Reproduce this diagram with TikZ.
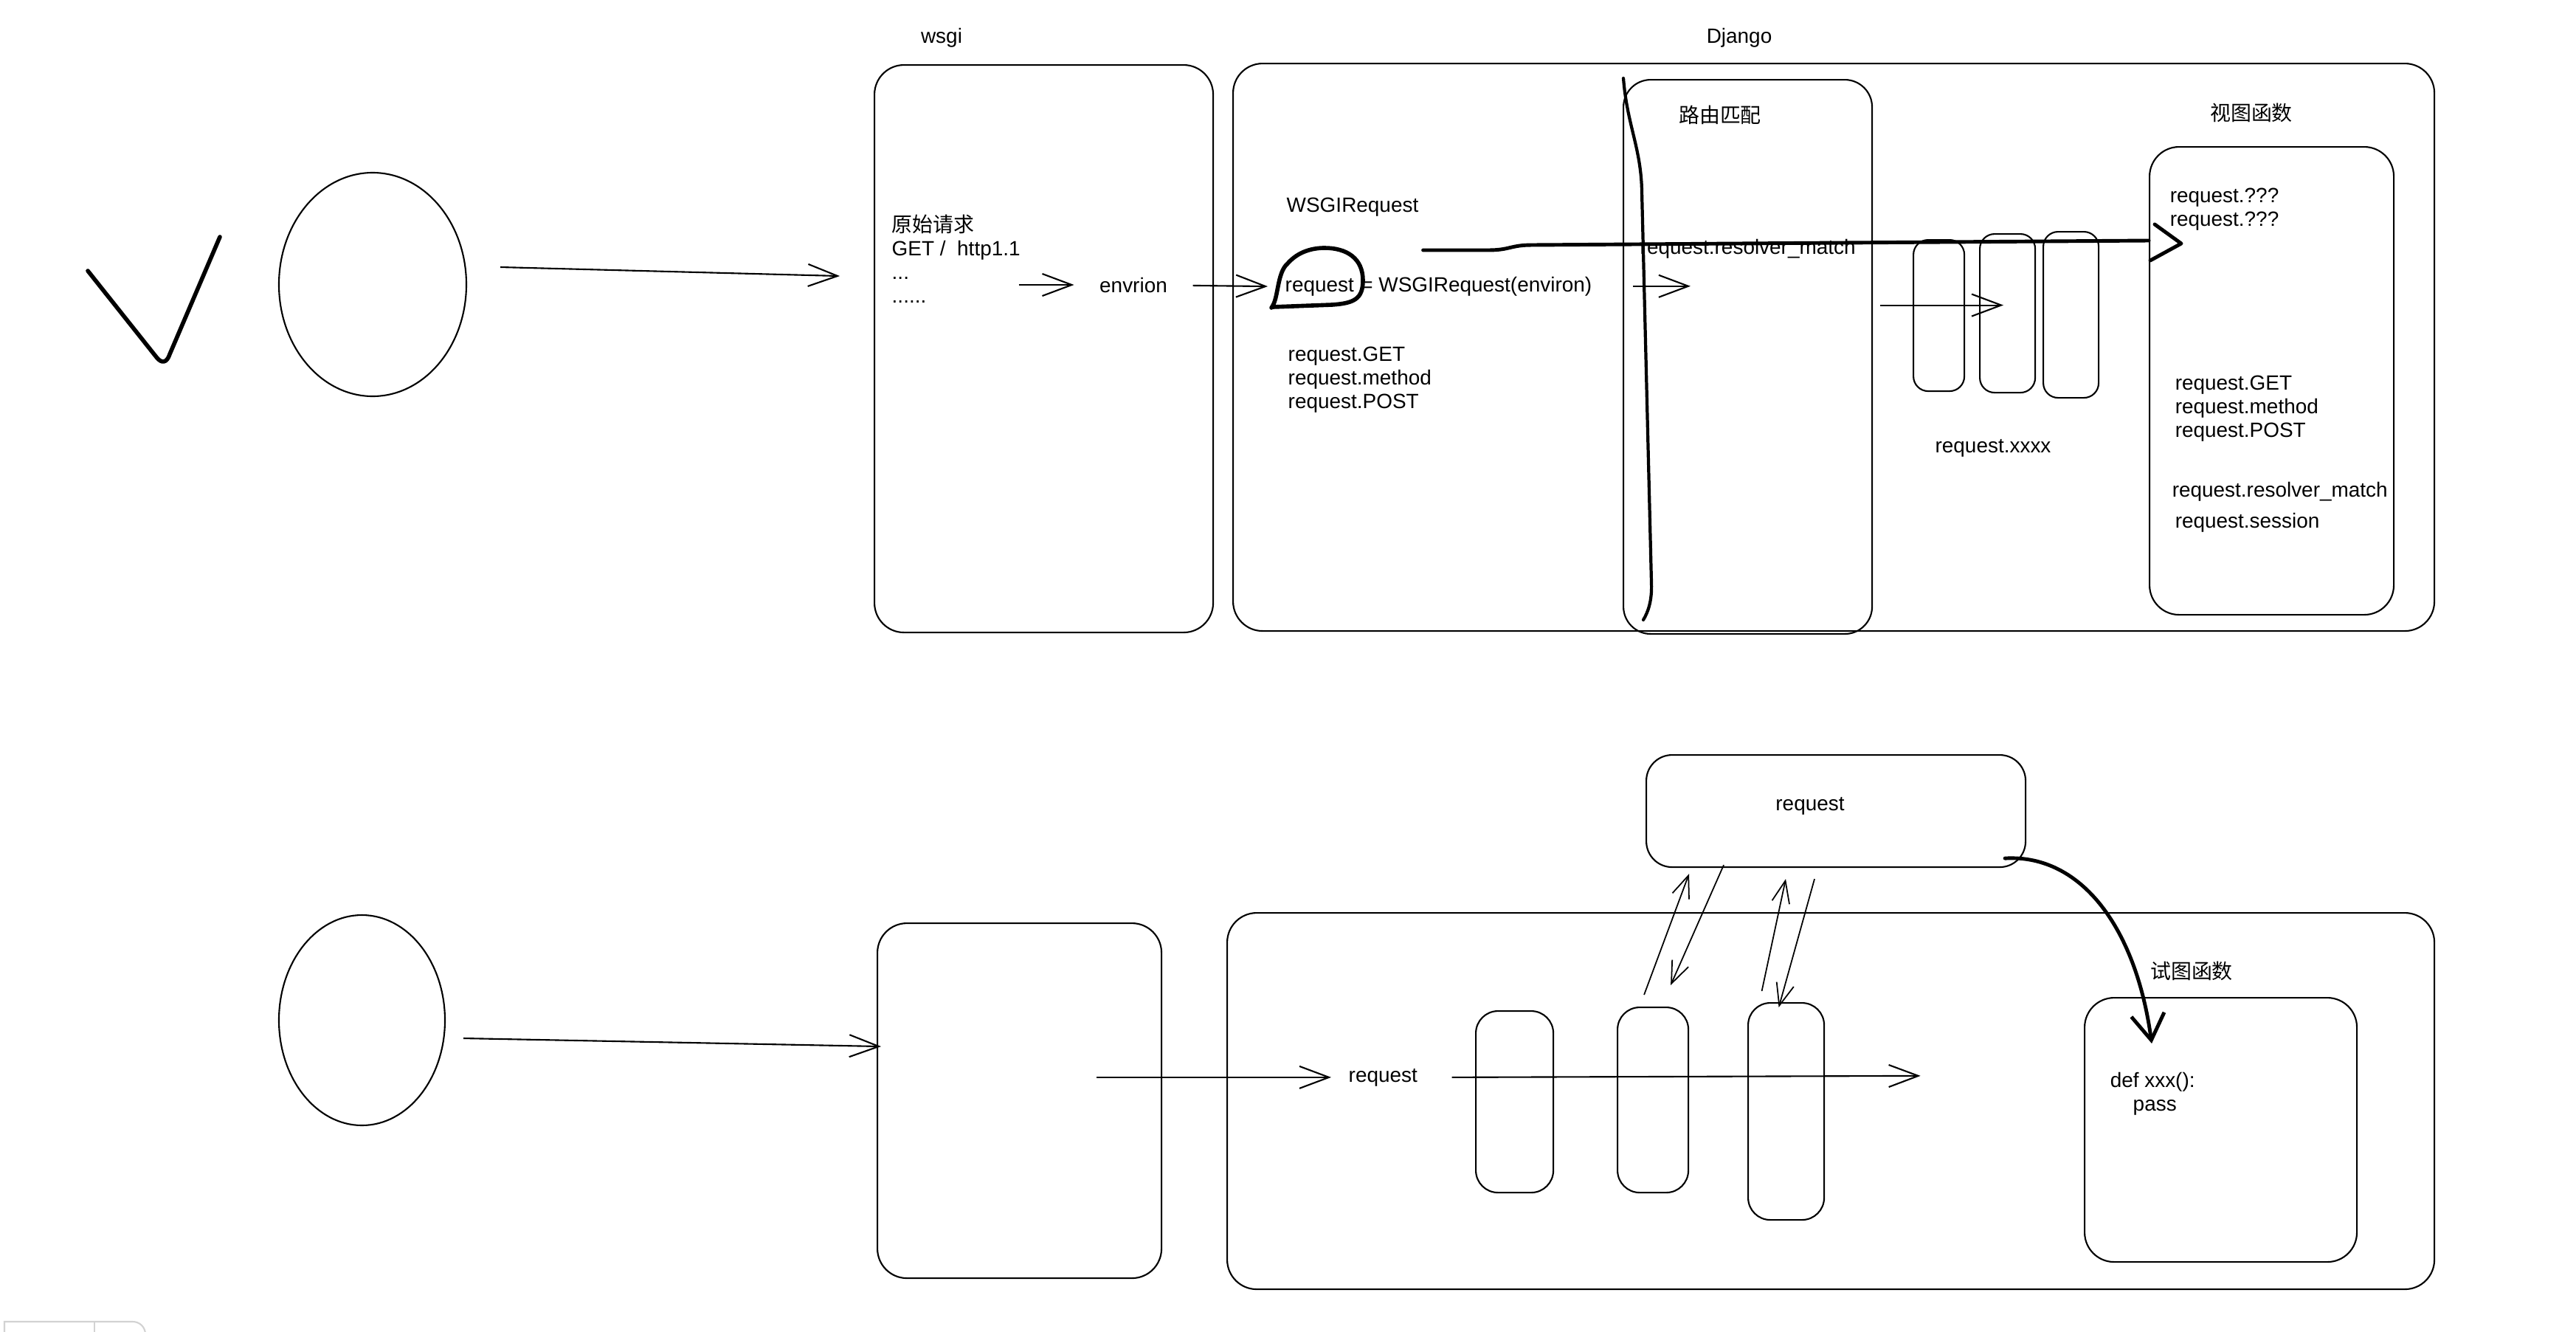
\documentclass[tikz,border=0pt]{standalone}
\usepackage{fontspec}
\setmainfont{Liberation Sans}
\newfontfamily\cjk{Noto Sans CJK SC}
\usetikzlibrary{arrows.meta,positioning,shapes.geometric}

\begin{document}
\begin{tikzpicture}[x=1cm,y=-1cm,
  font=\fontsize{7.95pt}{9.1pt}\selectfont,
  box/.style={draw,line width=0.6pt,rounded corners=4mm,inner sep=0pt,anchor=north west},
  mwbox/.style={box,rounded corners=2mm},
  egg/.style={draw,ellipse,line width=0.6pt,inner sep=0pt},
  arr/.style={-{Straight Barb[length=4mm,width=3mm]},line width=0.6pt},
  sarr/.style={-{Straight Barb[length=3mm,width=2.4mm]},line width=0.5pt},
  thk/.style={line width=1.4pt,line cap=round,line join=round},
  txt/.style={inner sep=0pt,anchor=base west,align=left},
  lab/.style={inner sep=0pt}
]
\useasboundingbox (0,0) rectangle (34.91,18.04);

% top row
\draw[thk,line width=1.6pt] (1.19,3.67) -- (2.12,4.84) .. controls (2.19,4.93) and (2.26,4.92) .. (2.30,4.80) -- (2.98,3.21);
\node[egg,minimum width=2.54cm,minimum height=3.03cm] (user1) at (5.05,3.855) {};

\node[box,minimum width=4.59cm,minimum height=7.69cm] (wsgi) at (11.84,0.87) {};
\node[box,minimum width=16.28cm,minimum height=7.69cm] (django) at (16.70,0.85) {};
\node[box,rounded corners=3.7mm,minimum width=3.37cm,minimum height=7.51cm] (route) at (21.99,1.07) {};
\node[mwbox,minimum width=0.69cm,minimum height=2.05cm] (mw1) at (25.92,3.24) {};
\node[mwbox,minimum width=0.75cm,minimum height=2.15cm] (mw2) at (26.82,3.16) {};
\node[mwbox,minimum width=0.75cm,minimum height=2.25cm] (mw3) at (27.68,3.13) {};
\node[box,minimum width=3.31cm,minimum height=6.34cm] (view) at (29.12,1.98) {};

% multi-line texts sit on the baseline of their last line
\node[lab,anchor=base] (wsgilab) at (12.76,0.58) {wsgi};
\node[lab,anchor=base] (djangolab) at (23.57,0.58) {Django};
\node[txt] (rawreq) at (12.08,4.10) {{\cjk 原始请求}\\GET /\ \ http1.1\\...\\......};
\node[lab,anchor=base,inner xsep=3.4mm] (envrion) at (15.36,3.96) {envrion};
\node[txt] (wsgireq) at (17.43,2.87) {WSGIRequest};
\node[lab,anchor=base west] (req) at (17.41,3.95) {request};
\node[txt,base right=0.8mm of req] (reqexpr) {= WSGIRequest(environ)};
\node[txt] (reqattr) at (17.45,5.53) {request.GET\\request.method\\request.POST};
\node[lab] (routelab) at (23.31,1.56) {\cjk 路由匹配};
\node[txt] (resolver) at (22.22,3.44) {request.resolver\_match};
\node[lab,anchor=base] (reqx) at (27.01,6.13) {request.xxxx};
\node[lab] (viewlab) at (30.51,1.53) {\cjk 视图函数};
\node[txt] (vq) at (29.40,3.06) {request.???\\request.???};
\node[txt] (vattr) at (29.47,5.92) {request.GET\\request.method\\request.POST};
\node[txt] (vres) at (29.43,6.73) {request.resolver\_match};
\node[txt] (vses) at (29.47,7.15) {request.session};

\draw[arr] ([shift={(0.45,-0.235)}]user1.east) -- ([shift={(-0.46,-0.985)}]wsgi.west);
\draw[arr] ([xshift=-7.5mm]envrion.west) -- (envrion);
\draw[arr,shorten >=2.3mm] (envrion) -- (req);
\draw[arr] ([xshift=5.5mm]reqexpr.east) -- ++(0.78,0);
\draw[arr] ([shift={(-0.44,-0.14)}]mw1.west) -- ++(1.67,0);

% request circled, flow into the view
\draw[thk,line width=1.6pt] (17.23,4.17) .. controls (17.33,4.05) and (17.30,3.70) .. (17.45,3.57) .. controls (17.60,3.40) and (17.80,3.36) .. (17.95,3.36) .. controls (18.25,3.36) and (18.47,3.50) .. (18.47,3.80) .. controls (18.47,4.05) and (18.35,4.11) .. (18.05,4.13) -- (17.25,4.16);
\coordinate (flowend) at (view.west |- 0,3.26);
\draw[thk] ([shift={(0.85,-0.56)}]reqexpr.base west) -- ++(0.88,0) .. controls +(0.3,0) and +(-0.3,0) .. ++(0.6,-0.07) -- (flowend);
\draw[thk] ([shift={(0.08,-0.22)}]flowend) -- ++(0.36,0.26) -- ++(-0.42,0.23);
\draw[thk,line width=1.2pt] (22.00,1.06) .. controls (22.05,1.7) and (22.24,2.0) .. (22.25,2.6) -- (22.38,7.9) .. controls (22.39,8.15) and (22.33,8.3) .. (22.27,8.40);

% bottom row
\node[egg,minimum width=2.25cm,minimum height=2.85cm] (user2) at (4.905,13.825) {};
\node[box,minimum width=3.85cm,minimum height=4.81cm] (lbox) at (11.88,12.50) {};
\node[box,minimum width=16.36cm,minimum height=5.10cm] (django2) at (16.62,12.36) {};
\node[box,rounded corners=3mm,minimum width=1.05cm,minimum height=2.46cm] (b1) at (19.99,13.69) {};
\node[box,rounded corners=3mm,minimum width=0.96cm,minimum height=2.51cm] (b2) at (21.91,13.64) {};
\node[box,rounded corners=3mm,minimum width=1.03cm,minimum height=2.94cm] (b3) at (23.68,13.58) {};
\node[box,rounded corners=3.5mm,minimum width=5.14cm,minimum height=1.52cm] (reqbox) at (22.30,10.22) {};
\node[box,minimum width=3.69cm,minimum height=3.58cm] (view2) at (28.24,13.51) {};

\node[lab,anchor=base west] (req2) at (18.27,14.66) {request};
\node[lab,anchor=base] (reqboxlab) at (24.53,10.98) {request};
\node[lab] (view2lab) at (29.70,13.16) {\cjk 试图函数};
\node[txt] (code) at (28.59,15.05) {def xxx():\\\hspace*{3.1mm}pass};

\draw[arr] ([shift={(0.24,0.245)}]user2.east) -- ([shift={(0.06,-0.735)}]lbox.west);
\draw[arr,shorten >=2.3mm] ([xshift=-3.41cm]req2.west) -- (req2);
\draw[arr] ([xshift=4.6mm]req2.east) -- ++(6.35,-0.02);
\draw[sarr] ([shift={(-0.12,-0.16)}]b2.north) -- ([shift={(0.59,0.08)}]reqbox.south west);
\draw[sarr] ([shift={(1.06,-0.04)}]reqbox.south west) -- ([shift={(0.24,-0.29)}]b2.north);
\draw[sarr] ([shift={(-0.33,-0.15)}]b3.north) -- ([shift={(1.90,0.15)}]reqbox.south west);
\draw[sarr] ([shift={(2.29,0.15)}]reqbox.south west) -- ([shift={(-0.10,0.07)}]b3.north);
\draw[thk,-{Straight Barb[length=3.5mm,width=4.5mm]}] ([shift={(-0.29,-0.13)}]reqbox.south east) .. controls +(1.05,-0.06) and +(-0.21,-1.54) .. ([shift={(0.92,0.63)}]view2.north west);

% corner of the editor toolbar
\draw[gray!35,line width=0.6pt] (0.06,18.2) -- (0.06,17.91) [rounded corners=1.7mm] -- (1.97,17.91) -- (1.97,18.2);
\draw[gray!35,line width=0.6pt] (1.28,17.91) -- (1.28,18.2);
\end{tikzpicture}
\end{document}
